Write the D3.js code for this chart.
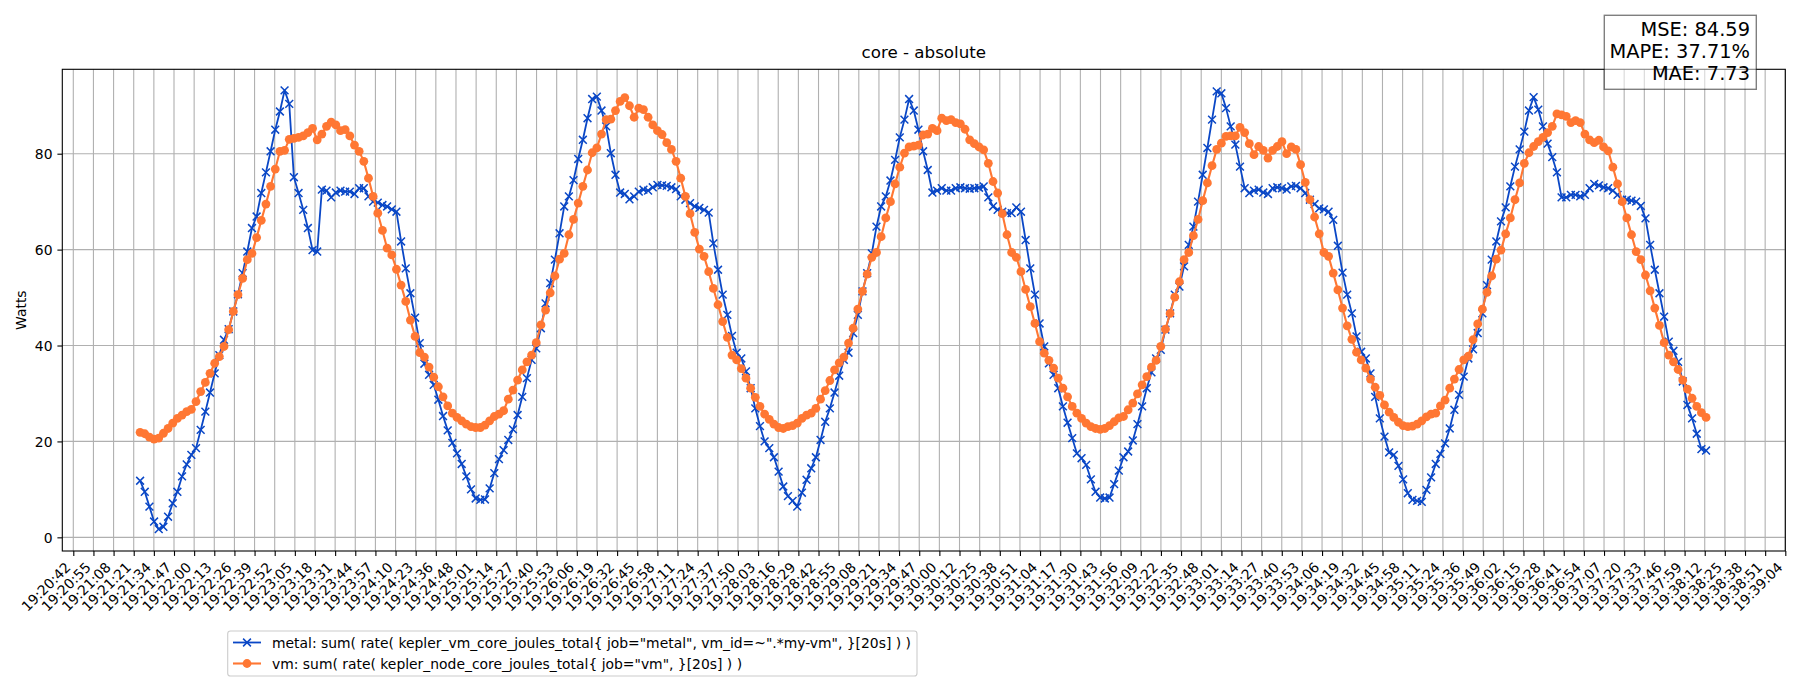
<!DOCTYPE html>
<html><head><meta charset="utf-8">
<script src="https://cdn.jsdelivr.net/npm/d3@7"></script>
<style>body{margin:0;background:#fff} svg{display:block} text{font-family:"DejaVu Sans",sans-serif;fill:#000}</style>
</head><body><svg id="c" width="1800" height="700"></svg>
<script>
const chartTitle = "core - absolute";
const yLabel = "Watts";
const tickLabels = ["19:20:42","19:20:55","19:21:08","19:21:21","19:21:34","19:21:47","19:22:00","19:22:13","19:22:26","19:22:39","19:22:52","19:23:05","19:23:18","19:23:31","19:23:44","19:23:57","19:24:10","19:24:23","19:24:36","19:24:48","19:25:01","19:25:14","19:25:27","19:25:40","19:25:53","19:26:06","19:26:19","19:26:32","19:26:45","19:26:58","19:27:11","19:27:24","19:27:37","19:27:50","19:28:03","19:28:16","19:28:29","19:28:42","19:28:55","19:29:08","19:29:21","19:29:34","19:29:47","19:30:00","19:30:12","19:30:25","19:30:38","19:30:51","19:31:04","19:31:17","19:31:30","19:31:43","19:31:56","19:32:09","19:32:22","19:32:35","19:32:48","19:33:01","19:33:14","19:33:27","19:33:40","19:33:53","19:34:06","19:34:19","19:34:32","19:34:45","19:34:58","19:35:11","19:35:24","19:35:36","19:35:49","19:36:02","19:36:15","19:36:28","19:36:41","19:36:54","19:37:07","19:37:20","19:37:33","19:37:46","19:37:59","19:38:12","19:38:25","19:38:38","19:38:51","19:39:04"];
const yTicks = [0, 20, 40, 60, 80];
const startTime = "19:21:25";
const stepSeconds = 3;
const seriesNames = ["metal: sum( rate( kepler_vm_core_joules_total{ job=\"metal\", vm_id=~\".*my-vm\", }[20s] ) )",
                     "vm: sum( rate( kepler_node_core_joules_total{ job=\"vm\", }[20s] ) )"];
const metal = [
11.8,9.5,6.4,3.3,1.7,2.2,4.3,7.1,9.5,12.7,
15.2,17.2,18.6,22.4,26.2,30.2,34.2,38.0,41.2,43.4,
47.1,50.7,55.1,59.6,64.5,66.9,71.8,76.1,80.5,85.0,
88.8,93.2,90.4,75.1,71.8,68.3,64.5,59.9,59.6,72.5,
72.3,70.9,71.9,72.3,72.1,72.1,71.6,72.8,72.8,71.1,
70.0,69.8,69.3,69.0,68.4,67.9,61.7,56.1,50.9,45.8,
40.5,36.2,33.9,31.8,28.7,25.3,22.3,19.7,17.5,15.3,
12.7,10.0,8.1,7.8,7.9,10.2,13.4,16.3,18.2,20.3,
22.5,25.5,29.3,33.2,37.0,39.4,43.6,48.8,53.0,57.9,
63.4,69.0,71.1,74.5,78.9,82.9,87.4,91.4,91.9,89.0,
85.7,80.1,75.6,71.9,71.6,70.5,71.1,72.1,72.5,72.3,
73.0,73.5,73.4,73.3,73.0,72.6,71.1,70.4,69.7,69.0,
68.7,68.3,67.7,61.3,55.8,50.6,46.4,42.0,38.5,37.3,
34.6,31.1,26.9,23.2,20.0,18.6,16.7,13.7,10.6,8.6,
7.6,6.4,9.3,12.0,14.4,16.7,20.3,24.1,26.9,30.2,
33.7,37.0,38.5,42.6,46.4,51.3,55.1,59.2,64.8,69.0,
71.1,74.4,78.7,83.4,87.1,91.4,89.0,85.0,80.5,76.6,
71.9,72.3,72.8,72.3,72.3,72.8,73.0,72.8,72.7,72.8,
72.9,73.2,70.9,69.0,68.3,67.9,67.6,67.6,68.8,67.9,
62.0,56.1,50.6,44.6,39.8,36.3,33.9,31.1,27.3,23.9,
20.7,17.5,16.5,15.1,12.1,9.5,8.3,8.1,8.3,11.1,
13.9,16.7,17.9,20.2,23.6,27.3,31.1,34.4,37.3,39.1,
43.3,46.7,50.6,52.3,56.5,61.0,64.8,70.0,75.6,81.2,
87.1,93.0,92.6,89.5,85.7,81.9,77.3,72.8,71.8,72.3,
72.5,71.9,71.6,72.8,73.0,72.8,72.5,73.2,73.3,72.8,
71.8,70.4,69.5,68.6,68.4,67.9,66.2,60.8,55.2,50.6,
46.7,41.9,38.7,37.3,34.2,29.3,24.8,21.0,17.7,17.2,
14.9,12.1,9.2,7.8,7.6,7.4,9.9,12.5,15.3,17.4,
19.6,22.7,26.6,29.7,33.5,37.3,39.2,42.6,46.7,52.6,
57.9,61.7,65.9,68.8,73.2,77.3,80.9,84.6,89.0,91.8,
89.2,85.7,82.1,79.3,76.1,70.9,70.9,71.4,71.4,71.1,
71.4,72.8,73.7,73.4,73.0,72.8,72.3,71.4,70.4,70.4,
70.2,70.0,69.1,66.5,61.0,55.8,50.9,46.0,40.8,38.9,
36.6,32.5,27.6,24.8,21.6,18.4,18.1];
const vm = [
21.9,21.6,20.9,20.5,20.7,21.7,22.7,23.8,24.8,25.5,
26.2,26.7,28.3,30.4,32.3,34.2,36.3,37.7,39.8,43.3,
47.1,50.6,54.0,57.9,59.2,62.5,66.1,69.5,73.2,76.8,
80.5,80.7,83.0,83.2,83.4,83.7,84.4,85.3,82.9,84.1,
85.7,86.6,86.0,84.8,85.0,83.7,81.8,80.5,78.4,74.9,
71.1,67.6,64.0,60.3,58.9,55.9,52.6,49.2,45.3,41.9,
38.5,37.6,35.5,33.4,31.4,29.3,27.4,25.9,25.0,24.3,
23.6,23.1,22.9,22.9,23.4,24.3,25.2,25.7,26.4,28.8,
30.7,32.8,34.9,36.6,38.0,40.6,44.3,47.4,51.0,54.5,
58.0,59.2,63.1,66.3,69.7,73.2,76.6,80.2,81.2,84.1,
87.1,87.2,89.0,90.9,91.7,90.0,87.6,89.5,89.2,87.6,
86.0,84.8,84.0,82.3,80.9,78.4,74.9,71.1,67.5,63.6,
60.1,58.6,55.4,51.9,48.5,45.0,41.7,38.0,37.0,35.2,
33.2,31.1,29.2,27.3,25.7,24.6,23.6,22.9,22.7,23.1,
23.3,23.8,24.8,25.5,25.9,26.9,28.8,30.6,32.7,34.9,
36.4,37.6,40.5,43.6,47.6,51.3,54.9,58.4,59.4,62.7,
66.6,70.0,73.7,77.2,80.1,81.4,81.6,81.8,83.9,84.1,
85.3,84.8,87.4,86.9,87.1,86.5,86.2,85.1,82.9,82.1,
81.4,80.8,78.0,74.2,71.8,67.5,63.1,59.4,58.4,55.4,
51.7,48.1,44.6,40.8,38.4,36.9,35.3,33.2,31.1,29.3,
27.3,25.9,24.8,23.8,23.1,22.7,22.5,22.7,23.3,24.1,
24.9,25.2,26.6,28.0,29.9,31.8,33.5,35.5,36.9,39.8,
43.4,46.7,50.1,53.3,57.9,59.4,62.9,66.3,70.2,73.9,
77.5,80.9,82.2,83.6,83.7,83.7,85.5,84.4,82.1,79.8,
81.5,80.7,79.1,80.7,81.5,82.5,80.0,81.4,80.9,77.7,
74.0,70.4,66.8,63.3,59.4,58.6,55.1,51.6,47.8,44.1,
41.3,38.6,37.0,35.3,33.0,31.3,29.6,27.6,26.1,25.0,
24.0,23.3,23.1,23.2,23.6,24.3,25.1,25.7,25.9,27.4,
28.6,31.1,33.0,35.0,37.0,37.8,41.2,44.5,47.6,51.1,
54.5,58.0,59.9,63.3,66.6,70.4,73.9,78.0,80.2,81.5,
82.5,83.4,84.4,85.7,88.3,88.1,87.8,86.5,86.9,86.5,
84.1,82.9,82.3,82.8,81.4,80.6,77.2,73.7,70.0,66.6,
63.1,59.6,57.9,54.7,51.4,47.8,44.2,40.6,38.0,36.6,
35.0,32.8,30.9,29.0,27.3,26.0,25.0];
const stats = ["MSE: 84.59", "MAPE: 37.71%", "MAE: 7.73"];
const colors = {metal: "#0a47c6", vm: "#ff7733"};

const svg = d3.select("#c");
const W = 1800, H = 700;
const plot = {left: 62.3, right: 1785.3, top: 69.3, bottom: 551};

const parse = d3.timeParse("%H:%M:%S");
const tFirst = parse(tickLabels[0]), tLast = parse(tickLabels[tickLabels.length - 1]);
const nT = tickLabels.length - 1;
const tickDates = tickLabels.map((s, i) => new Date(+tFirst + (tLast - tFirst) * i / nT));
const tickStepMs = (tLast - tFirst) / nT;
const x = d3.scaleTime()
  .domain([new Date(+tFirst - 0.546 * tickStepMs), tLast])
  .range([plot.left, plot.right]);
const y = d3.scaleLinear().domain([-2.85, 97.6]).range([plot.bottom, plot.top]);

const t0 = parse(startTime);
const times = metal.map((_, i) => new Date(+t0 + i * stepSeconds * 1000));

// grid
const grid = svg.append("g");
grid.selectAll("line.vx").data(tickDates).join("line")
  .attr("x1", d => x(d)).attr("x2", d => x(d))
  .attr("y1", plot.top).attr("y2", plot.bottom)
  .attr("stroke", "#b0b0b0").attr("stroke-width", 1.1);
grid.selectAll("line.hy").data(yTicks).join("line")
  .attr("x1", plot.left).attr("x2", plot.right)
  .attr("y1", d => y(d)).attr("y2", d => y(d))
  .attr("stroke", "#b0b0b0").attr("stroke-width", 1.1);

// axes
const xAxis = d3.axisBottom(x).tickValues(tickDates).tickSize(4.9).tickSizeOuter(0).tickFormat((d, i) => tickLabels[i]);
const gx = svg.append("g").attr("transform", `translate(0,${plot.bottom})`).call(xAxis);
gx.select(".domain").remove();
gx.selectAll(".tick line").attr("stroke", "#000").attr("stroke-width", 1.1);
gx.selectAll(".tick text")
  .attr("font-size", 13.9).attr("font-family", "DejaVu Sans")
  .attr("text-anchor", "end")
  .attr("y", 0).attr("dy", 0)
  .attr("transform", "translate(-2.3,17.2) rotate(-45)");

const yAxis = d3.axisLeft(y).tickValues(yTicks).tickSize(4.9).tickSizeOuter(0).tickPadding(4.9);
const gy = svg.append("g").attr("transform", `translate(${plot.left},0)`).call(yAxis);
gy.select(".domain").remove();
gy.selectAll(".tick line").attr("stroke", "#000").attr("stroke-width", 1.1);
gy.selectAll(".tick text").attr("font-size", 13.9).attr("font-family", "DejaVu Sans").attr("dy", "0.36em");

// series
const lineGen = d3.line().x((d, i) => x(times[i])).y(d => y(d));
const gm = svg.append("g");
gm.append("path").datum(metal).attr("d", lineGen)
  .attr("fill", "none").attr("stroke", colors.metal).attr("stroke-width", 1.8).attr("stroke-linejoin", "round");
const xs = 3.9;
gm.selectAll("path.mk").data(metal).join("path")
  .attr("d", (d, i) => {
    const cx = x(times[i]), cy = y(d);
    return `M${cx - xs},${cy - xs}L${cx + xs},${cy + xs}M${cx - xs},${cy + xs}L${cx + xs},${cy - xs}`;
  })
  .attr("stroke", colors.metal).attr("stroke-width", 1.5).attr("fill", "none");

const gv = svg.append("g");
gv.append("path").datum(vm).attr("d", lineGen)
  .attr("fill", "none").attr("stroke", colors.vm).attr("stroke-width", 2.1).attr("stroke-linejoin", "round");
gv.selectAll("circle").data(vm).join("circle")
  .attr("cx", (d, i) => x(times[i])).attr("cy", d => y(d)).attr("r", 4.4)
  .attr("fill", colors.vm);

// frame
svg.append("rect").attr("x", plot.left).attr("y", plot.top)
  .attr("width", plot.right - plot.left).attr("height", plot.bottom - plot.top)
  .attr("fill", "none").attr("stroke", "#000").attr("stroke-width", 1.1);

// title
svg.append("text").attr("x", (plot.left + plot.right) / 2).attr("y", 58)
  .attr("text-anchor", "middle").attr("font-size", 16.7).text(chartTitle);

// y label
svg.append("text").attr("transform", `translate(25.5,${(plot.top + plot.bottom) / 2}) rotate(-90)`)
  .attr("text-anchor", "middle").attr("font-size", 13.9).text(yLabel);

// stats box
const sb = svg.append("g");
sb.append("rect").attr("x", 1604.3).attr("y", 15.3).attr("width", 152).attr("height", 74)
  .attr("fill", "#fff").attr("fill-opacity", 0.5).attr("stroke", "#000").attr("stroke-opacity", 0.5).attr("stroke-width", 1.4);
sb.selectAll("text").data(stats).join("text")
  .attr("x", 1750).attr("y", (d, i) => 36 + i * 22.2)
  .attr("text-anchor", "end").attr("font-size", 19.4).text(d => d);

// legend
const lg = svg.append("g");
lg.append("rect").attr("x", 227.7).attr("y", 631).attr("width", 689.3).attr("height", 45)
  .attr("rx", 2.8).attr("fill", "#fff").attr("fill-opacity", 0.8).attr("stroke", "#cccccc").attr("stroke-width", 1.1);
const rows = [{name: seriesNames[0], c: colors.metal, m: "x"}, {name: seriesNames[1], c: colors.vm, m: "o"}];
rows.forEach((r, i) => {
  const cy = 642.5 + i * 21;
  lg.append("line").attr("x1", 233).attr("x2", 261).attr("y1", cy).attr("y2", cy)
    .attr("stroke", r.c).attr("stroke-width", r.m === "x" ? 1.8 : 2.1);
  if (r.m === "x") {
    lg.append("path").attr("d", `M${247 - xs},${cy - xs}L${247 + xs},${cy + xs}M${247 - xs},${cy + xs}L${247 + xs},${cy - xs}`)
      .attr("stroke", r.c).attr("stroke-width", 1.5);
  } else {
    lg.append("circle").attr("cx", 247).attr("cy", cy).attr("r", 4.4).attr("fill", r.c);
  }
  lg.append("text").attr("x", 272).attr("y", cy + 5).attr("font-size", 13.9).text(r.name);
});
</script></body></html>
